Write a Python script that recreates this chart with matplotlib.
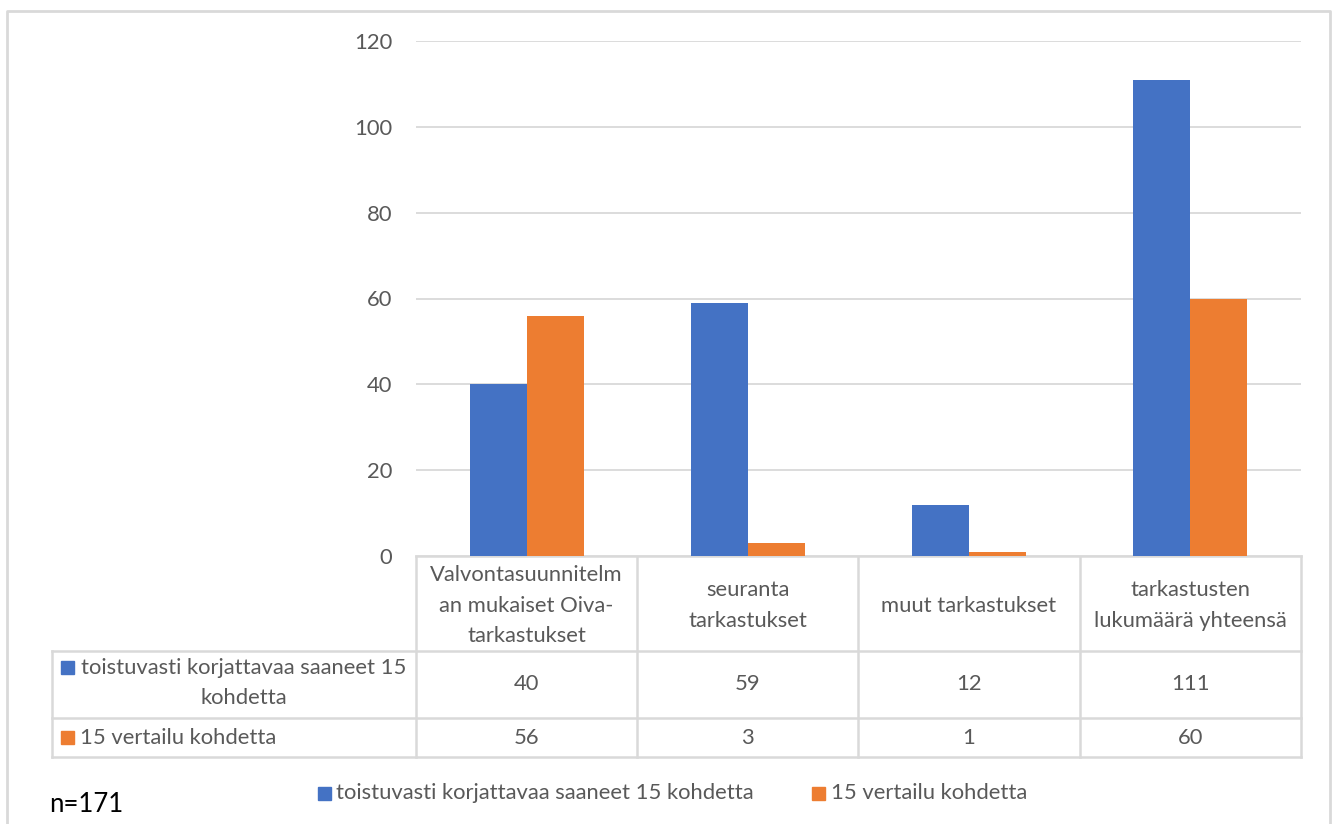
import matplotlib
matplotlib.use("Agg")
import matplotlib.pyplot as plt
from matplotlib.lines import Line2D
from matplotlib.patches import Rectangle
import numpy as np

plt.rcParams['font.family'] = ['Lato', 'DejaVu Sans']

categories = ["Valvontasuunnitelm\nan mukaiset Oiva-\ntarkastukset",
              "seuranta\ntarkastukset",
              "muut tarkastukset",
              "tarkastusten\nlukumäärä yhteensä"]
series_names = ["toistuvasti korjattavaa saaneet 15 kohdetta",
                "15 vertailu kohdetta"]
table_row_labels = ["toistuvasti korjattavaa saaneet 15\nkohdetta",
                    "15 vertailu kohdetta"]
repeat_values = [40, 59, 12, 111]
compare_values = [56, 3, 1, 60]
y_ticks = [0, 20, 40, 60, 80, 100, 120]
note_text = "n=171"

BLUE = "#4472C4"
ORANGE = "#ED7D31"
GRID = "#d9d9d9"
TEXT = "#595959"

W, H = 1336, 824
fig = plt.figure(figsize=(W / 100, H / 100), dpi=100)

# plot area in pixel coordinates
px_l, px_r, px_t, px_b = 416, 1301, 41, 556
ax = fig.add_axes([px_l / W, 1 - px_b / H, (px_r - px_l) / W, (px_b - px_t) / H])

fs = 15.8
x = np.arange(len(categories))
bw = 0.258
ax.bar(x - bw / 2, repeat_values, width=bw, color=BLUE, zorder=3)
ax.bar(x + bw / 2, compare_values, width=bw, color=ORANGE, zorder=3)
ax.set_xlim(-0.5, len(categories) - 0.5)
ax.set_ylim(0, 120)
ax.set_yticks(y_ticks)
ax.set_yticklabels([str(v) for v in y_ticks], color=TEXT, fontsize=fs)
ax.tick_params(axis='y', length=0, pad=17)
ax.set_xticks([])
ax.grid(axis='y', color=GRID, linewidth=1.3, zorder=0)
for s in ax.spines.values():
    s.set_visible(False)

# overlay in pixel coordinates for the data table, legend and frame
ov = fig.add_axes([0, 0, 1, 1], zorder=-1)
ov.set_xlim(0, W)
ov.set_ylim(H, 0)
ov.axis('off')

def hline(x0, x1, y):
    ov.add_line(Line2D([x0, x1], [y, y], color=GRID, lw=1.8))

def vline(x0, y0, y1):
    ov.add_line(Line2D([x0, x0], [y0, y1], color=GRID, lw=1.8))

# chart frame
ov.add_line(Line2D([7, 7, 1330, 1330], [830, 11, 11, 830], color=GRID, lw=2))

col_edges = [416, 637, 858, 1080, 1301]
row_edges = [556, 651, 718, 757]
tbl_left = 52

hline(col_edges[0], col_edges[-1], row_edges[0])
for r in row_edges[1:]:
    hline(tbl_left, col_edges[-1], r)
for c in col_edges:
    vline(c, row_edges[0], row_edges[-1])
vline(tbl_left, row_edges[1], row_edges[-1])

for i, cat in enumerate(categories):
    cx = (col_edges[i] + col_edges[i + 1]) / 2
    ov.text(cx, (row_edges[0] + row_edges[1]) / 2 + 2, cat, ha='center', va='center',
            color=TEXT, fontsize=fs, linespacing=1.68)
    ov.text(cx, (row_edges[1] + row_edges[2]) / 2, str(repeat_values[i]), ha='center',
            va='center', color=TEXT, fontsize=fs)
    ov.text(cx, (row_edges[2] + row_edges[3]) / 2, str(compare_values[i]), ha='center',
            va='center', color=TEXT, fontsize=fs)

# row headers with colour keys
first, second = table_row_labels[0].split("\n")
ov.add_patch(Rectangle((61, 661), 13, 13, color=BLUE))
ov.text(244, 668, first, ha='center', va='center', color=TEXT, fontsize=fs)
ov.text(244, 698, second, ha='center', va='center', color=TEXT, fontsize=fs)
ov.add_patch(Rectangle((61, 731), 13, 13, color=ORANGE))
ov.text(80, 738, table_row_labels[1], ha='left', va='center', color=TEXT, fontsize=fs)

# legend
ov.add_patch(Rectangle((318, 787), 13, 13, color=BLUE))
ov.text(336, 793, series_names[0], ha='left', va='center', color=TEXT, fontsize=fs)
ov.add_patch(Rectangle((812, 787), 13, 13, color=ORANGE))
ov.text(831, 793, series_names[1], ha='left', va='center', color=TEXT, fontsize=fs)

ov.text(49, 804, note_text, ha='left', va='center', color='black', fontsize=18.5)

fig.savefig("out.png", dpi=100, facecolor='white')
